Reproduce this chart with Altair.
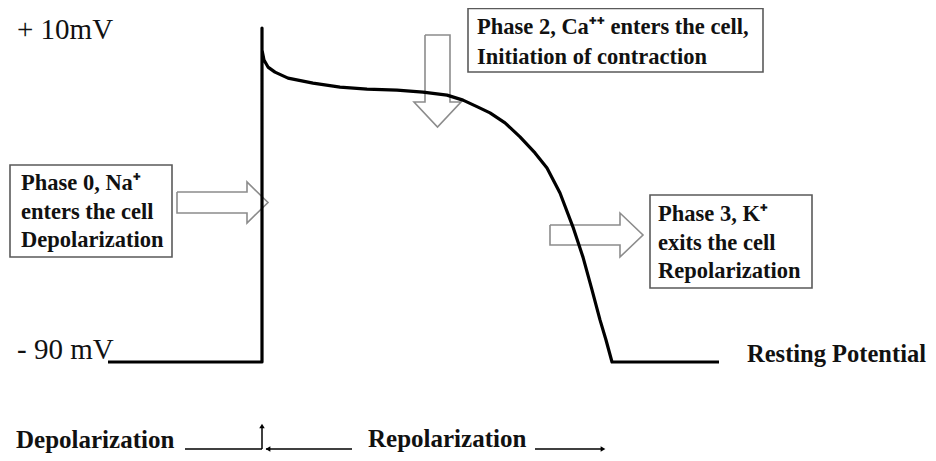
import altair as alt
import pandas as pd

# ---- action potential curve (time in arbitrary units, membrane potential in mV)
time_units = [-154, 0, 0, 0, 2, 6, 13, 26, 51, 78, 105, 135, 161, 185, 201, 216, 228,
              243, 258, 273, 285, 298, 311, 321, 330, 338, 344, 350, 457]
voltage_mv = [-90, -90, 10, 3.4, 0.4, -1.7, -3.2, -5.0, -6.5, -7.7, -8.3, -8.6, -9.2,
              -10.1, -11.6, -13.7, -15.4, -18.4, -22.6, -27.4, -31.9, -39.4, -49.6,
              -58.6, -68.4, -77.4, -83.4, -90, -90]

# ---- texts
level_labels = ["+ 10mV", "- 90 mV"]
phase0_lines = ["Phase 0, Na\u207a", " enters the cell", "Depolarization"]
phase2_lines = ["Phase 2, Ca\u207a\u207a enters the cell,", "Initiation of contraction"]
phase3_lines = ["Phase 3, K\u207a", " exits the cell", "Repolarization"]
rest_label = "Resting Potential"
bottom_labels = ["Depolarization", "Repolarization"]

# ---- layout helpers (page pixel -> data units)
X0, Y_REST, PX_PER_MV = 262, 362, 3.34
def T(px):
    return px - X0
def V(py):
    return -90 + (Y_REST - py) / PX_PER_MV

xs = alt.Scale(domain=[T(8), T(928)], nice=False, zero=False)
ys = alt.Scale(domain=[V(453), V(8)], nice=False, zero=False)
X = lambda f="t": alt.X(f"{f}:Q", scale=xs, axis=None)
Y = lambda f="v": alt.Y(f"{f}:Q", scale=ys, axis=None)

curve_df = pd.DataFrame({"t": time_units, "v": voltage_mv, "i": range(len(time_units))})
curve = alt.Chart(curve_df).mark_line(color="black", strokeWidth=3.2, strokeJoin="round").encode(
    x=X(), y=Y(), order="i:Q")

# hollow block arrows
def poly(name, pts):
    return [{"arrow": name, "i": k, "t": T(x), "v": V(y)} for k, (x, y) in enumerate(pts)]
arrow_rows = []
arrow_rows += poly("p0", [(177, 192), (247, 192), (247, 182), (268, 202.5), (247, 223),
                         (247, 213), (177, 213), (177, 192)])
arrow_rows += poly("p2", [(425, 35), (450, 35), (450, 102), (461, 102), (437.5, 127),
                         (414, 102), (425, 102), (425, 35)])
arrow_rows += poly("p3", [(550, 225), (620, 225), (620, 213), (643, 235), (620, 257),
                         (620, 245), (550, 245), (550, 225)])
arrows = alt.Chart(pd.DataFrame(arrow_rows)).mark_line(
    color="#8c8c8c", strokeWidth=1.6, strokeJoin="miter").encode(
    x=X(), y=Y(), detail="arrow:N", order="i:Q")

# boxes
box_df = pd.DataFrame([
    {"t": T(10), "t2": T(172), "v": V(165), "v2": V(257)},
    {"t": T(468), "t2": T(763), "v": V(8.5), "v2": V(72)},
    {"t": T(650), "t2": T(812), "v": V(195), "v2": V(288)},
])
boxes = alt.Chart(box_df).mark_rect(fill="white", fillOpacity=0, stroke="#5a5a5a",
                                    strokeWidth=1.6).encode(
    x=X(), x2="t2:Q", y=Y(), y2="v2:Q")

def texts(rows, size, weight, align="left"):
    df = pd.DataFrame([{"t": T(x), "v": V(y), "txt": s} for (x, y, s) in rows])
    return alt.Chart(df).mark_text(font="Liberation Serif", fontSize=size, fontWeight=weight,
                                   align=align, baseline="middle", color="#111").encode(
        x=X(), y=Y(), text="txt:N")

bold_rows = [
    (21, 183, phase0_lines[0]), (21, 212, phase0_lines[1]), (21, 240, phase0_lines[2]),
    (477, 27, phase2_lines[0]), (477, 57, phase2_lines[1]),
    (658, 214, phase3_lines[0]), (658, 243, phase3_lines[1]), (658, 271, phase3_lines[2]),
]
bold_text = texts(bold_rows, 22.5, "bold")
big_bold = texts([(16, 440, bottom_labels[0]), (368, 439, bottom_labels[1])], 25, "bold")
rest_text = texts([(926, 355, rest_label)], 24.5, "bold", align="right")
level_text = texts([(17, 30, level_labels[0]), (17, 350, level_labels[1])], 29, "normal")

# bottom timeline lines
hrule_df = pd.DataFrame([
    {"t": T(185), "t2": T(262), "v": V(449)},
    {"t": T(266), "t2": T(352), "v": V(449)},
    {"t": T(535), "t2": T(602), "v": V(449)},
])
hrules = alt.Chart(hrule_df).mark_rule(color="black", strokeWidth=1.5).encode(
    x=X(), x2="t2:Q", y=Y())
vrule = alt.Chart(pd.DataFrame([{"t": T(262), "v": V(449), "v2": V(427)}])).mark_rule(
    color="black", strokeWidth=1.5).encode(x=X(), y=Y(), y2="v2:Q")
heads_df = pd.DataFrame([
    {"t": T(268), "v": V(449), "shape": "triangle-left"},
    {"t": T(603), "v": V(449), "shape": "triangle-right"},
    {"t": T(262), "v": V(426), "shape": "triangle-up"},
])
heads = alt.Chart(heads_df).mark_point(filled=True, color="black", size=30, opacity=1).encode(
    x=X(), y=Y(), shape=alt.Shape("shape:N", scale=None))

chart = alt.layer(arrows, boxes, curve, bold_text, big_bold, rest_text, level_text,
                  hrules, vrule, heads).properties(
    width=920, height=445, padding=0, autosize=alt.AutoSizeParams(type="none"),
    background="white"
).configure_view(stroke=None)

chart.save("out.html", embed_options={"renderer": "svg", "actions": False})
